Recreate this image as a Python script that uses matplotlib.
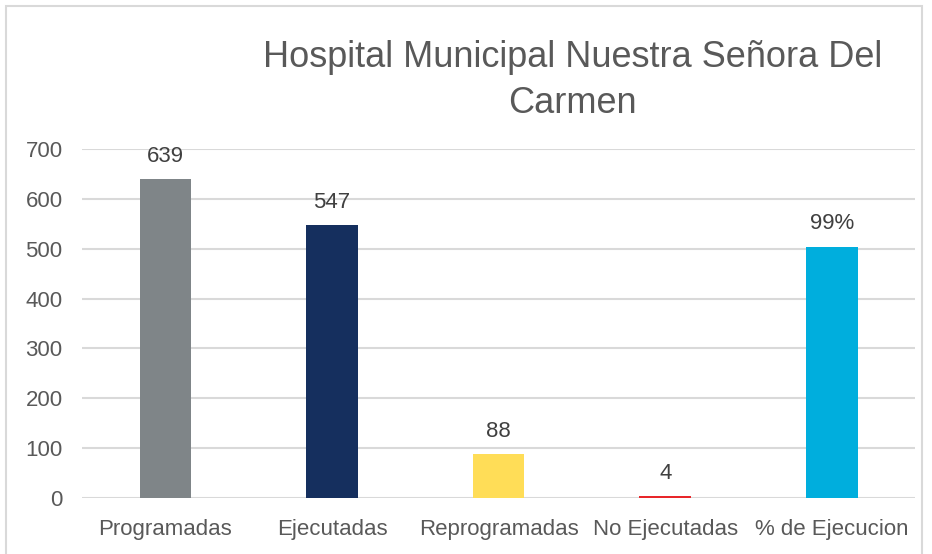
import matplotlib.pyplot as plt
from matplotlib.patches import Rectangle

# Chart data
categorias = ["Programadas", "Ejecutadas", "Reprogramadas", "No Ejecutadas", "% de Ejecucion"]
valores = [639, 547, 88, 4, 504]
etiquetas = ["639", "547", "88", "4", "99%"]
colores = ["#7F8588", "#152F5E", "#FFDD57", "#E8262A", "#00AEDD"]

plt.rcParams['font.family'] = ['Liberation Sans', 'DejaVu Sans']
texto = "#595959"

fig = plt.figure(figsize=(9.32, 5.54), dpi=100)
ax = fig.add_axes([0.088, 0.101, 0.894, 0.630])

# Outer chart border (bottom edge falls outside the image)
fig.patches.append(Rectangle((6 / 932, -0.05), 916 / 932, 1.05 - 6 / 554,
                             transform=fig.transFigure, fill=False,
                             edgecolor="#D9D9D9", linewidth=1.5))

x = range(len(categorias))
barras = ax.bar(x, valores, width=0.31, color=colores, zorder=3)

for b, txt in zip(barras, etiquetas):
    ax.annotate(txt, (b.get_x() + b.get_width() / 2, b.get_height()),
                xytext=(0, 9), textcoords="offset points",
                ha="center", va="bottom", fontsize=16, color="#404040")

ax.set_xlim(-0.5, len(categorias) - 0.5)
ax.set_ylim(0, 700)
ax.set_yticks(range(0, 701, 100))
ax.set_xticks(list(x))
ax.set_xticklabels(categorias)
ax.tick_params(axis="both", length=0, labelsize=16, labelcolor=texto)
ax.tick_params(axis="y", pad=14)
ax.tick_params(axis="x", pad=15)
ax.grid(axis="y", color="#D9D9D9", linewidth=1.5, zorder=0)
for s in ax.spines.values():
    s.set_visible(False)

fig.text(0.614, 0.855, "Hospital Municipal Nuestra Señora Del\nCarmen",
         ha="center", va="center", fontsize=26, color=texto, linespacing=1.4)

fig.savefig("out.png", dpi=100)
